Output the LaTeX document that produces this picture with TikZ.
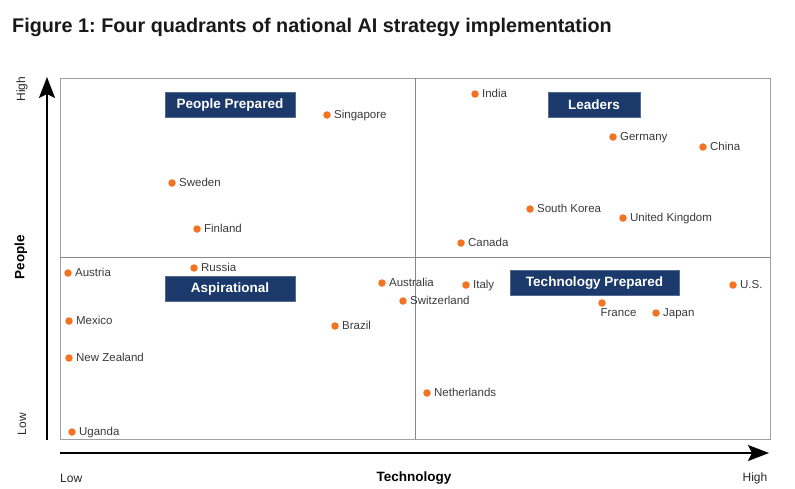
\documentclass[tikz,border=0pt]{standalone}
\usepackage{fontspec}
\setmainfont{Liberation Sans}
\usetikzlibrary{arrows.meta}

\definecolor{navy}{HTML}{1B3A6B}
\definecolor{dotorange}{HTML}{F47321}
\definecolor{txtgray}{HTML}{3A3A3A}
\definecolor{framegray}{HTML}{A0A0A0}

\tikzset{
  country/.style={circle,fill=dotorange,inner sep=0pt,minimum size=7.5pt,
    label distance=4pt},
  cname/.style={text=txtgray,font=\fontsize{11.5}{13}\selectfont,inner sep=0.5pt,
    text height=8pt,text depth=2pt,xshift=2.5pt},
  quadrant/.style={fill=navy,draw=navy!75!white,line width=0.6pt,text=white,
    font=\bfseries\fontsize{13.5}{15}\selectfont,minimum height=25pt,inner sep=0pt,
    text height=10pt,text depth=2pt},
  axis/.style={line width=2pt,-{Stealth[length=21pt,width=16pt,inset=4pt]}},
  axisname/.style={font=\bfseries\fontsize{13.5}{15}\selectfont,text=black},
  axisend/.style={font=\fontsize{12}{14}\selectfont,text=black!85},
  divider/.style={draw=framegray!85!black,line width=0.8pt}
}

\begin{document}
\frenchspacing
\begin{tikzpicture}[x=1pt,y=-1pt]

  \useasboundingbox (0,0) rectangle (795,488);

  \node[anchor=base west,inner sep=0pt,text=black!90,
    font=\bfseries\fontsize{19.8}{22}\selectfont] (title) at (12,32)
    {Figure 1: Four quadrants of national AI strategy implementation};

  % plot area and the two dividers
  \node[draw=framegray,line width=0.8pt,anchor=north west,inner sep=0pt,
    minimum width=710pt,minimum height=361pt] (plot) at (60,78) {};
  \draw[divider] (415,78) -- (415,439);
  \draw[divider] (60,257) -- (770,257);

  % axes
  \coordinate (ybot) at (47,440);
  \coordinate (ytop) at (47,77);
  \coordinate (xleft) at (60,453);
  \coordinate (xright) at (769,453);
  \draw[axis] (ybot) -- (ytop);
  \draw[axis] (xleft) -- (xright);

  \node[axisend,rotate=90] (yhigh) at (22,89) {High};
  \node[axisname,rotate=90] (ypeople) at (21,257) {People};
  \node[axisend,rotate=90] (ylow) at (22,424) {Low};
  \node[axisend,anchor=west,inner sep=0pt] (xlow) at (60,478) {Low};
  \node[axisname] (xtech) at (414,478) {Technology};
  \node[axisend] (xhigh) at (755,478) {High};

  % quadrant names
  \node[quadrant,minimum width=130pt] (pplprep) at (230,104.5) {People Prepared};
  \node[quadrant,minimum width=92pt] (leaders) at (594,105) {Leaders};
  \node[quadrant,minimum width=130pt] (aspir) at (230,288.5) {Aspirational};
  \node[quadrant,minimum width=169pt] (techprep) at (594.5,282.5) {Technology Prepared};

  % countries
  \node[country,label={[cname]right:India}] (india) at (475,94) {};
  \node[country,label={[cname]right:Singapore}] (singapore) at (327,115) {};
  \node[country,label={[cname]right:Germany}] (germany) at (613,137) {};
  \node[country,label={[cname]right:China}] (china) at (703,147) {};
  \node[country,label={[cname]right:Sweden}] (sweden) at (172,183) {};
  \node[country,label={[cname]right:Finland}] (finland) at (197,229) {};
  \node[country,label={[cname]right:South Korea}] (skorea) at (530,209) {};
  \node[country,label={[cname]right:United Kingdom}] (uk) at (623,218) {};
  \node[country,label={[cname]right:Canada}] (canada) at (461,243) {};

  \node[country,label={[cname]right:Austria}] (austria) at (68,273) {};
  \node[country,label={[cname]right:Russia}] (russia) at (194,268) {};
  \node[country,label={[cname]right:Mexico}] (mexico) at (69,321) {};
  \node[country,label={[cname]right:New Zealand}] (nz) at (69,358) {};
  \node[country,label={[cname]right:Uganda}] (uganda) at (72,432) {};
  \node[country,label={[cname]right:Brazil}] (brazil) at (335,326) {};
  \node[country,label={[cname]right:Australia}] (australia) at (382,283) {};
  \node[country,label={[cname]right:Switzerland}] (swiss) at (403,301) {};

  \node[country,label={[cname]right:Italy}] (italy) at (466,285) {};
  \node[country,label={[cname,xshift=14pt,label distance=1pt]below:France}] (france) at (602,303) {};
  \node[country,label={[cname]right:Japan}] (japan) at (656,313) {};
  \node[country,label={[cname]right:U.S.}] (us) at (733,285) {};
  \node[country,label={[cname]right:Netherlands}] (nl) at (427,393) {};

\end{tikzpicture}
\end{document}
